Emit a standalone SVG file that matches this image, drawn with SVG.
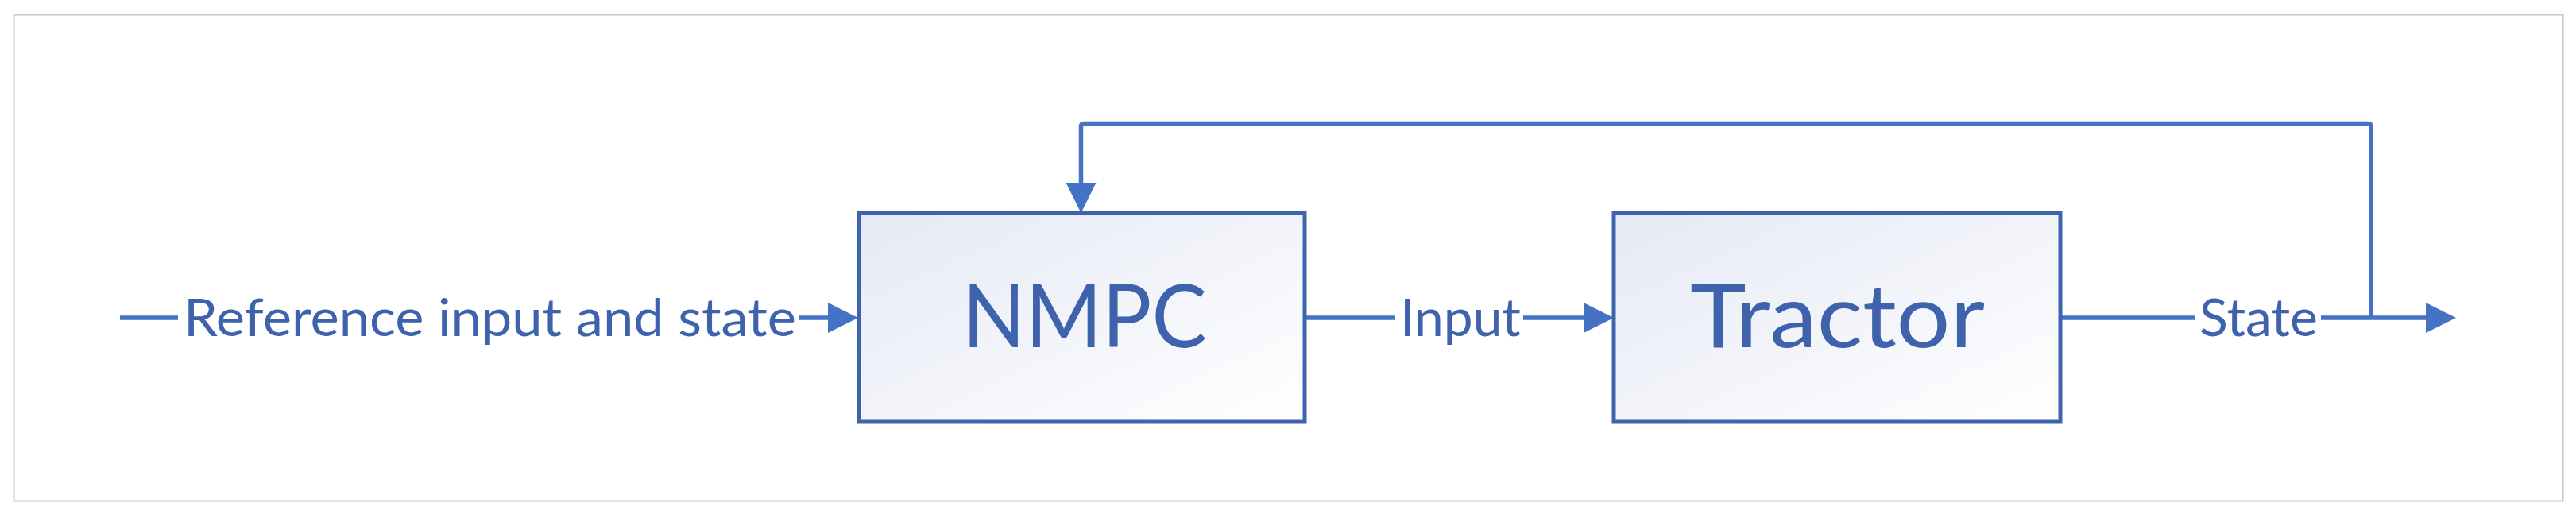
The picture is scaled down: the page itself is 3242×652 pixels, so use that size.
<svg xmlns="http://www.w3.org/2000/svg" width="3242" height="652" viewBox="0 0 3242 652">
  <style>
    .box { fill: url(#boxfill); stroke: #3f64ae; stroke-width: 5; }
    .title { font-family: Lato, "Open Sans", "Liberation Sans", sans-serif; font-size: 110px; fill: #3e63ac; }
    .label { font-family: Lato, "Open Sans", "Liberation Sans", sans-serif; font-size: 65px; fill: #3e63ac; }
    .conn { fill: none; stroke: #4472c4; stroke-width: 5.5; }
  </style>
  <defs>
    <linearGradient id="boxfill" x1="0" y1="0" x2="1" y2="1">
      <stop offset="0" stop-color="#e6e9f5"/>
      <stop offset="1" stop-color="#ffffff"/>
    </linearGradient>
    <marker id="arrow" markerUnits="userSpaceOnUse" viewBox="0 0 38 38" refX="0" refY="19" markerWidth="38" markerHeight="38" orient="auto">
      <path d="M0,0 L38,19 L0,38 z" fill="#4472c4"/>
    </marker>
  </defs>
  <rect x="0" y="0" width="3242" height="652" fill="#ffffff"/>
  <rect x="17.5" y="18.5" width="3208" height="612" fill="#ffffff" stroke="#c8c8c8" stroke-width="2"/>

  <g id="connectors">
    <path class="conn" d="M151,400 H224 M1006,400 H1042" marker-end="url(#arrow)"/>
    <text class="label" x="231" y="423" textLength="771" lengthAdjust="spacingAndGlyphs">Reference input and state</text>
    <path class="conn" d="M1642,400 H1756 M1917,400 H1993" marker-end="url(#arrow)"/>
    <text class="label" x="1762" y="423" textLength="152" lengthAdjust="spacingAndGlyphs">Input</text>
    <path class="conn" d="M2593,400 H2763 M2921,400 H3053" marker-end="url(#arrow)"/>
    <text class="label" x="2768" y="423" textLength="149" lengthAdjust="spacingAndGlyphs">State</text>
    <path class="conn" d="M2984,400 V159 Q2984,155.5 2980,155.5 H1364 Q1360.5,155.5 1360.5,159 V230" marker-end="url(#arrow)"/>
  </g>

  <g id="nmpc">
    <rect class="box" x="1080.5" y="268.5" width="561.5" height="262.5"/>
    <text class="title" x="1211" y="437" textLength="308" lengthAdjust="spacingAndGlyphs">NMPC</text>
  </g>

  <g id="tractor">
    <rect class="box" x="2031" y="268.5" width="562" height="262.5"/>
    <text class="title" x="2127" y="437" textLength="371" lengthAdjust="spacingAndGlyphs">Tractor</text>
  </g>
</svg>
